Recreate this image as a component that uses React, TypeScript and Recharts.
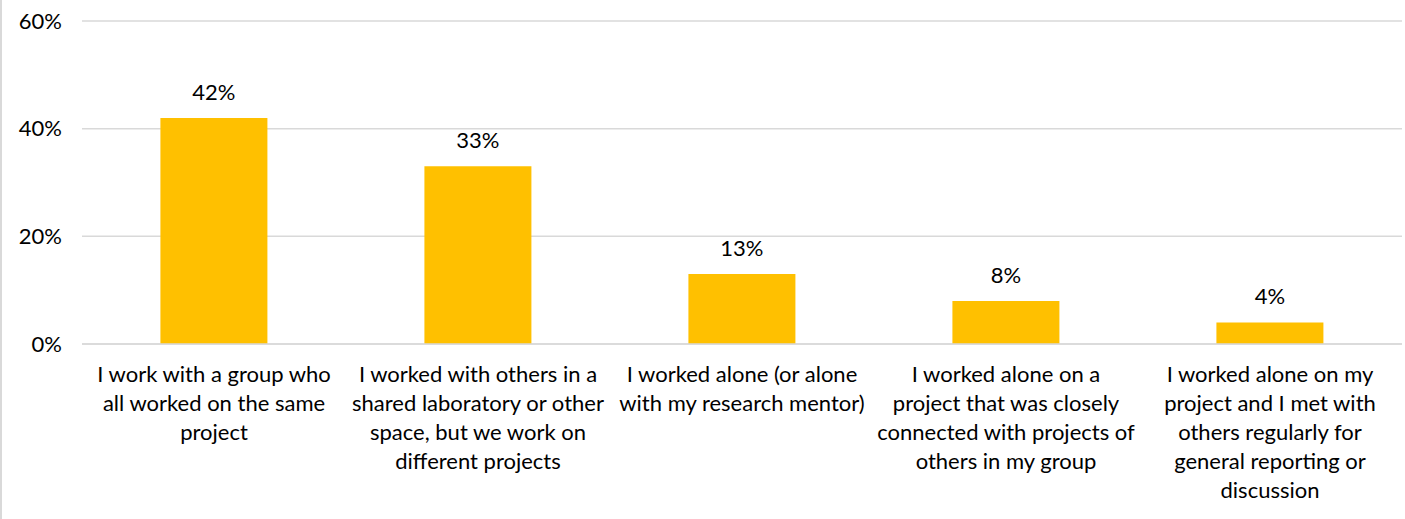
import { Bar, BarChart, CartesianGrid, LabelList, XAxis, YAxis } from "recharts";

const categories = [
  ["I work with a group who", "all worked on the same", "project"],
  ["I worked with others in a", "shared laboratory or other", "space, but we work on", "different projects"],
  ["I worked alone (or alone", "with my research mentor)"],
  ["I worked alone on a", "project that was closely", "connected with projects of", "others in my group"],
  ["I worked alone on my", "project and I met with", "others regularly for", "general reporting or", "discussion"],
];
const shares = [42, 33, 13, 8, 4];
const yTicks = [0, 20, 40, 60];

const data = categories.map((lines, i) => ({ name: lines.join(" "), lines, share: shares[i] }));

const FONT = "Lato, 'Open Sans', sans-serif";

function CategoryTick({ x, y, index }: any) {
  const lines = categories[index] || [];
  return (
    <text x={x} y={y + 3} textAnchor="middle" fontFamily={FONT} fontSize={22} fill="#000">
      {lines.map((line, i) => (
        <tspan key={i} x={x} dy={29}>
          {line}
        </tspan>
      ))}
    </text>
  );
}

export default function App() {
  return (
    <div style={{ position: "absolute", left: 0, top: 0, width: 1405, height: 519, background: "#fff" }}>
      <div style={{ position: "absolute", left: 0, top: 0, width: 2, height: 519, background: "#d9d9d9" }} />
      <BarChart
        width={1405}
        height={519}
        data={data}
        margin={{ top: 21, right: 3, left: 0, bottom: 0 }}
        barCategoryGap="29.7%"
      >
        <CartesianGrid vertical={false} stroke="#d9d9d9" strokeWidth={1.5} />
        <XAxis
          dataKey="name"
          height={175}
          axisLine={{ stroke: "#d9d9d9", strokeWidth: 1.5 }}
          tickLine={false}
          interval={0}
          tick={<CategoryTick />}
          tickMargin={0}
        />
        <YAxis
          width={82}
          domain={[0, 60]}
          ticks={yTicks}
          axisLine={false}
          tickLine={false}
          tickFormatter={(v: number) => `${v}%`}
          tick={{ fill: "#000", fontSize: 22, fontFamily: FONT }}
          tickMargin={14}
        />
        <Bar dataKey="share" fill="#ffc000" isAnimationActive={false}>
          <LabelList
            dataKey="share"
            position="top"
            offset={18}
            formatter={(v: any) => `${v}%`}
            style={{ fill: "#000", fontSize: 22, fontFamily: FONT }}
          />
        </Bar>
      </BarChart>
    </div>
  );
}
